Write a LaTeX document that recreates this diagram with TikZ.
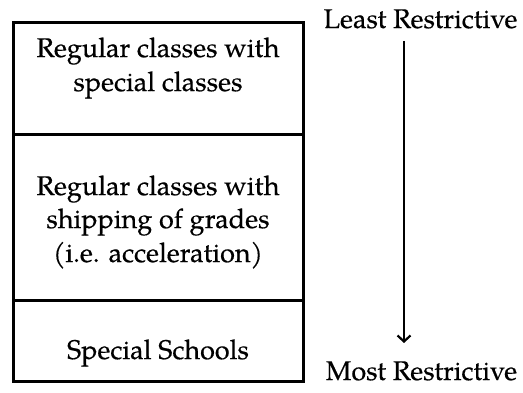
\documentclass[tikz,border=0pt]{standalone}
\usepackage{fontspec}
\setmainfont{TeX Gyre Pagella}
\newfontfamily\labelfont{TeX Gyre Pagella}[FakeBold=0.4]
\usetikzlibrary{arrows.meta}
\begin{document}
\begin{tikzpicture}[x=1pt,y=1pt,
  frame/.style={line width=3pt},
  label/.style={anchor=base,inner sep=0pt,font=\labelfont\fontsize{27}{32}\selectfont},
  scale arrow/.style={line width=2.2pt,-{Straight Barb[length=6pt,width=13pt,line width=2.2pt]}}]
  \useasboundingbox (0,0) rectangle (523,393);
  % stacked placement boxes
  \draw[frame] (13.5,11) rectangle (303.3,370.7);
  \draw[frame] (13.5,258.7) -- (303.3,258.7);
  \draw[frame] (13.5,92.3) -- (303.3,92.3);
  % box texts
  \node[label] (a1) at (158,336) {Regular classes with};
  \node[label] (a2) at (158,302) {special classes};
  \node[label] (b1) at (158,198) {Regular classes with};
  \node[label] (b2) at (158,165) {shipping of grades};
  \node[label] (b3) at (158,131) {(i.e. acceleration)};
  \node[label] (c1) at (158,34) {Special Schools};
  % restrictiveness scale
  \node[label] (least) at (420.5,365) {Least Restrictive};
  \node[label] (most) at (421.5,13) {Most Restrictive};
  \coordinate (top) at (404,352);
  \coordinate (tip) at (404,50);
  \draw[scale arrow] (top) -- (tip);
\end{tikzpicture}
\end{document}
